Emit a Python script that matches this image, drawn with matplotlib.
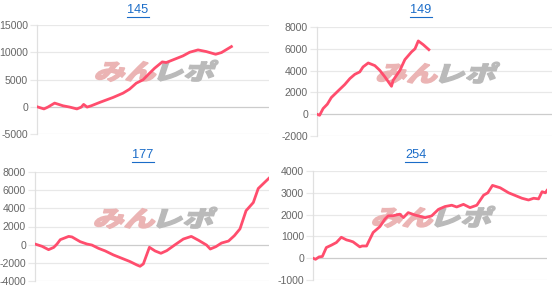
import numpy as np
import matplotlib
matplotlib.use('Agg')
import matplotlib.pyplot as plt
import matplotlib.transforms as mtransforms
from matplotlib.textpath import TextPath
from matplotlib.patches import PathPatch
from matplotlib.font_manager import FontProperties
from matplotlib.lines import Line2D

# データ (x: 期間の進み具合 0-100, y: 差枚)
titles = ['145', '149', '177', '254']

x_145 = [0, 3.0, 4.7, 7.6, 11.2, 14.1, 17.2, 19.1, 20.1, 21.6, 23.4, 27.0, 32.8, 37.1, 39.9, 42.8,
         45.7, 47.8, 50.7, 54.0, 55.7, 59.3, 62.9, 65.8, 69.4, 73.0, 77.0, 79.5, 83.8]
y_145 = [0, -400, -60, 670, 180, -60, -400, -60, 430, -60, 180, 790, 1710, 2500, 3230, 4330,
         4940, 5850, 7070, 8230, 8110, 8720, 9330, 10000, 10430, 10120, 9630, 9940, 11040]

x_149 = [0, 1.1, 2.6, 4.4, 6.1, 9.0, 11.8, 14.0, 16.1, 18.2, 19.6, 21.8, 24.6, 26.7, 28.9, 31.7,
         32.4, 35.3, 37.4, 40.2, 41.7, 43.1, 45.2, 47.6]
y_149 = [0, -100, 520, 920, 1530, 2140, 2720, 3270, 3660, 3880, 4340, 4700, 4460, 4030, 3420, 2560,
         3110, 4030, 5010, 5710, 6000, 6720, 6380, 5920]

x_177 = [0, 3.0, 5.8, 8.0, 9.4, 10.8, 14.4, 15.8, 19.3, 22.2, 24.3, 27.1, 30.0, 33.5, 37.1, 40.6,
         43.5, 44.9, 46.3, 48.9, 51.3, 53.8, 56.3, 59.9, 63.4, 66.8, 69.9, 73.3, 74.9, 77.3, 79.7,
         82.7, 85.2, 87.6, 90.2, 93.3, 95.4, 98.3, 100.0]
y_177 = [70, -180, -550, -300, 70, 550, 910, 850, 330, 70, -40, -400, -690, -1130, -1500, -1860,
         -2230, -2380, -2120, -290, -690, -950, -660, 0, 620, 910, 480, -40, -480, -220, 180,
         400, 990, 1740, 3740, 4640, 6180, 6900, 7320]

x_254 = [0, 1.1, 2.6, 4.0, 5.7, 7.9, 10.0, 12.1, 14.3, 15.7, 17.1, 20.0, 21.0, 22.9, 23.6, 25.7,
         28.6, 30.7, 32.1, 34.3, 37.1, 38.6, 40.7, 43.6, 47.9, 50.7, 53.6, 56.4, 59.3, 61.4, 64.3,
         67.1, 70.0, 72.9, 74.7, 76.7, 80.0, 83.6, 89.3, 92.1, 94.3, 96.4, 97.9, 99.3, 100.0]
y_254 = [0, -50, 60, 80, 490, 600, 720, 960, 840, 800, 750, 520, 560, 560, 720, 1180,
         1450, 1790, 1940, 1950, 2020, 1860, 2090, 1980, 1860, 1940, 2240, 2370, 2430, 2350, 2470,
         2320, 2430, 2890, 3000, 3340, 3230, 3000, 2750, 2670, 2750, 2720, 3050, 3000, 3110]

y_ticks = [
    [-5000, 0, 5000, 10000, 15000],
    [-2000, 0, 2000, 4000, 6000, 8000],
    [-4000, -2000, 0, 2000, 4000, 6000, 8000],
    [-1000, 0, 1000, 2000, 3000, 4000],
]

series = [(x_145, y_145), (x_149, y_149), (x_177, y_177), (x_254, y_254)]

W, H = 555, 292
fig = plt.figure(figsize=(W / 100, H / 100), dpi=100)

# 各グラフの位置 (ピクセル: 左, 上, 右, 下)
boxes = [(37, 25, 269, 134), (317, 27, 552, 136), (35, 172, 269, 281), (313, 171, 547, 280)]
title_pos = [(138, 10), (421, 10), (143, 155), (416, 155)]

fp_logo = FontProperties(family='Noto Sans CJK JP', weight=900)


def add_logo(ax):
    cx, cy = ax.transAxes.transform((0.5, 0.58))
    p1 = TextPath((0, 0), 'みん', size=31, prop=fp_logo)
    p2 = TextPath((0, 0), 'レポ', size=31, prop=fp_logo)
    e1 = p1.get_extents()
    e2 = p2.get_extents()
    gap = 3
    base = min(e1.y0, e2.y0)
    total = e1.width + gap + e2.width
    hgt = max(e1.y1, e2.y1) - base
    sy = 0.72
    x0 = cx - total / 2
    y0 = cy - hgt * sy / 2
    t1 = mtransforms.Affine2D().translate(-e1.x0, -base).scale(1, sy).skew_deg(18, 0).translate(x0, y0)
    t2 = mtransforms.Affine2D().translate(-e2.x0, -base).scale(1, sy).skew_deg(18, 0).translate(x0 + e1.width + gap, y0)
    for p, t, c in [(p1, t1, '#ebb4b4'), (p2, t2, '#bababa')]:
        patch = PathPatch(p, facecolor=c, edgecolor=c, lw=1.0, transform=t, zorder=1)
        patch.set_clip_on(False)
        ax.add_artist(patch)


for i, (box, (xs, ys)) in enumerate(zip(boxes, series)):
    l, t, r, b = box
    ax = fig.add_axes([l / W, 1 - b / H, (r - l) / W, (b - t) / H])
    ticks = y_ticks[i]
    ax.set_ylim(ticks[0], ticks[-1])
    ax.set_xlim(0, 100)
    ax.set_yticks(ticks)
    ax.set_yticklabels([str(v) for v in ticks], family='Liberation Sans')
    ax.set_xticks([])
    for v in ticks:
        ax.axhline(v, color='#cccccc' if v == 0 else '#e8e8e8', lw=0.9, zorder=0)
    for s in ['top', 'right', 'bottom']:
        ax.spines[s].set_visible(False)
    ax.spines['left'].set_color('#e0e0e0')
    ax.spines['left'].set_linewidth(0.9)
    ax.tick_params(axis='y', length=5, width=0.9, color='#e8e8e8', labelcolor='#666666',
                   labelsize=7.6, pad=1.5)
    add_logo(ax)
    ax.plot(xs, ys, color='#ff4d6d', lw=2.0, solid_joinstyle='round', zorder=3)

    tx, ty = title_pos[i]
    fig.text(tx / W, 1 - ty / H, titles[i], color='#1a6cc8', fontsize=9.2,
             family='Liberation Sans', ha='center', va='center')
    ul_w = 22
    fig.add_artist(Line2D([(tx - ul_w / 2) / W, (tx + ul_w / 2) / W],
                          [1 - (ty + 6.5) / H, 1 - (ty + 6.5) / H],
                          color='#1a6cc8', lw=0.8))

fig.savefig('out.png', dpi=100)
